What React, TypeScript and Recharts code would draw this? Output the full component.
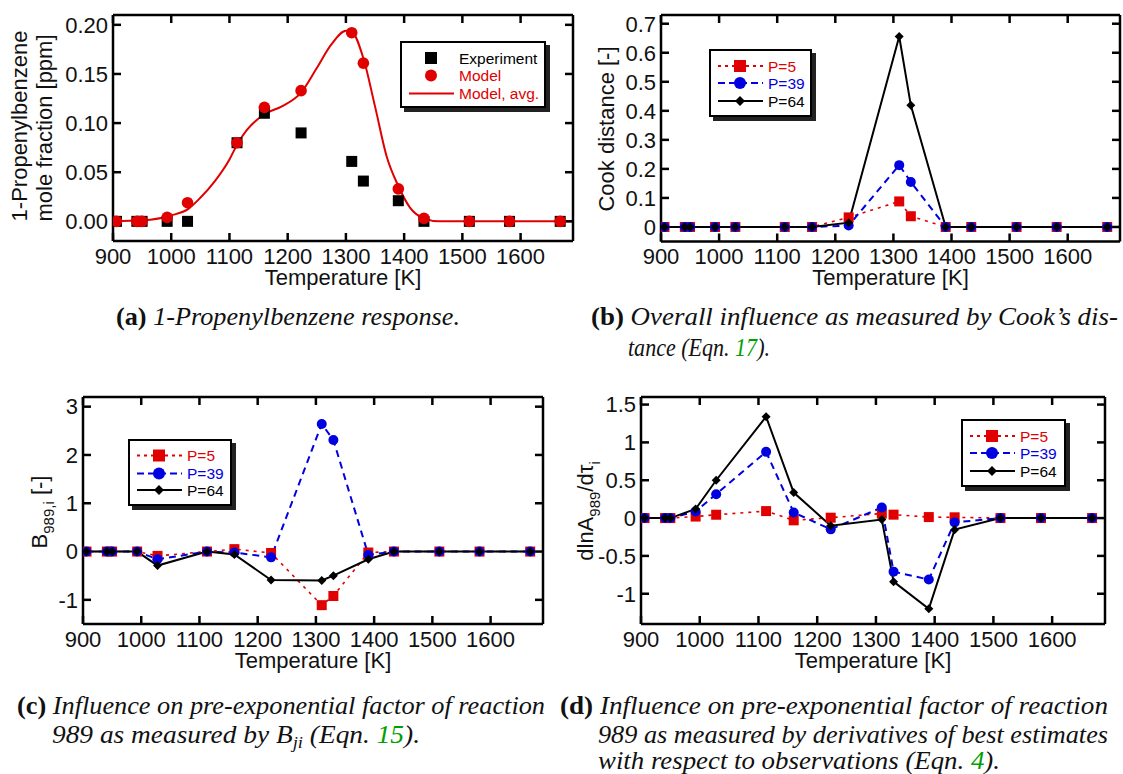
import React from "react";
import { LineChart, Line, XAxis, YAxis } from "recharts";

// temperatures of the 15 observations [K]
const TEMPS = [906, 941, 950, 993, 1028, 1113, 1160, 1223, 1310, 1330, 1390, 1434, 1512, 1581, 1668];
const X_TICKS = [900, 1000, 1100, 1200, 1300, 1400, 1500, 1600];

// (a) 1-propenylbenzene mole fraction [ppm]
const EXPERIMENT = [0, 0, 0, 0, 0, 0.08, 0.11, 0.09, 0.061, 0.041, 0.021, 0, 0, 0, 0];
const MODEL = [0, 0, 0, 0.004, 0.019, 0.08, 0.116, 0.133, 0.192, 0.161, 0.033, 0.003, 0, 0, 0];
const AVG_T = [900, 950, 1000, 1030, 1050, 1075, 1100, 1113, 1130, 1160, 1190, 1223, 1250, 1275, 1300, 1310, 1330, 1350, 1370, 1390, 1410, 1434, 1460, 1690];
const AVG_V = [0, 0.001, 0.006, 0.013, 0.024, 0.041, 0.063, 0.078, 0.093, 0.109, 0.117, 0.131, 0.156, 0.18, 0.194, 0.193, 0.166, 0.117, 0.066, 0.036, 0.014, 0.003, 0, 0];

// (b) Cook distance
const COOK_P5 = [0, 0, 0, 0, 0, 0, 0, 0.033, 0.088, 0.037, 0, 0, 0, 0, 0];
const COOK_P39 = [0, 0, 0, 0, 0, 0, 0, 0.005, 0.213, 0.155, 0, 0, 0, 0, 0];
const COOK_P64 = [0, 0, 0, 0, 0, 0, 0, 0.015, 0.656, 0.419, 0, 0, 0, 0, 0];

// (c) B_989,i
const B_P5 = [0, 0, 0, 0, -0.09, 0, 0.05, -0.03, -1.11, -0.92, -0.02, 0, 0, 0, 0];
const B_P39 = [0, 0, 0, 0, -0.16, 0, -0.02, -0.12, 2.64, 2.31, -0.07, 0, 0, 0, 0];
const B_P64 = [0, 0, 0, 0, -0.29, 0, -0.06, -0.59, -0.6, -0.5, -0.16, 0, 0, 0, 0];

// (d) dlnA_989 / dtau_i
const D_P5 = [0, 0, 0, 0.02, 0.044, 0.092, -0.03, 0.005, 0.06, 0.045, 0.013, 0.01, 0, 0, 0];
const D_P39 = [0, 0, 0, 0.087, 0.315, 0.875, 0.074, -0.149, 0.14, -0.708, -0.813, -0.057, 0, 0, 0];
const D_P64 = [0, 0, 0, 0.12, 0.5, 1.34, 0.337, -0.1, -0.02, -0.84, -1.2, -0.153, 0, 0, 0];

const RED = "#e00000";
const BLUE = "#0000e0";
const INK = "#111";
const SANS = "Liberation Sans, Arial, Helvetica, sans-serif";
const SERIF = "Liberation Serif, Times New Roman, Times, serif";

const AXIS = { stroke: "#000", strokeWidth: 2.5 };
const TICK = { fontSize: 22, fill: INK, fontFamily: SANS };
const NO_LABEL = () => <g />;

function table(a: number[], b: number[], c?: number[]) {
  return TEMPS.map((T, i) => ({ T, a: a[i], b: b[i], c: c ? c[i] : undefined }));
}

const square = (s: number, fill: string) => (p: any) =>
  p.cx == null ? <g key={p.index} /> : (
    <rect key={`s${p.index}`} x={p.cx - s / 2} y={p.cy - s / 2} width={s} height={s} fill={fill} />
  );
const circle = (r: number, fill: string) => (p: any) =>
  p.cx == null ? <g key={p.index} /> : <circle key={`c${p.index}`} cx={p.cx} cy={p.cy} r={r} fill={fill} />;
const diamond = (s: number, fill: string) => (p: any) =>
  p.cx == null ? <g key={p.index} /> : (
    <polygon
      key={`d${p.index}`}
      points={`${p.cx},${p.cy - s} ${p.cx + s},${p.cy} ${p.cx},${p.cy + s} ${p.cx - s},${p.cy}`}
      fill={fill}
    />
  );

// bottom/left axes with labels, top/right mirrors with inward ticks only
// (a CartesianAxis with zero width/height is not drawn, so the mirrors get 1px)
function frame(yDomain: number[], yTicks: number[], yFmt: (v: number) => string, yWidth: number, xHeight: number, labelOffset: number) {
  return [
    <XAxis
      key="xb"
      dataKey="T"
      type="number"
      domain={[900, 1690]}
      ticks={X_TICKS}
      interval={0}
      allowDataOverflow
      tick={TICK}
      tickSize={-8}
      tickMargin={15}
      height={xHeight}
      axisLine={AXIS}
      tickLine={AXIS}
      label={{ value: "Temperature [K]", position: "insideBottom", offset: labelOffset, fill: INK, fontSize: 22, fontFamily: SANS }}
    />,
    <XAxis
      key="xt"
      xAxisId="t"
      dataKey="T"
      orientation="top"
      type="number"
      domain={[900, 1690]}
      ticks={X_TICKS}
      interval={0}
      allowDataOverflow
      tick={NO_LABEL}
      tickSize={-8}
      height={1}
      axisLine={AXIS}
      tickLine={AXIS}
    />,
    <YAxis
      key="yl"
      type="number"
      domain={yDomain}
      ticks={yTicks}
      interval={0}
      allowDataOverflow
      tickFormatter={yFmt}
      tick={TICK}
      tickSize={-8}
      tickMargin={13}
      width={yWidth}
      axisLine={AXIS}
      tickLine={AXIS}
    />,
    <YAxis
      key="yr"
      yAxisId="r"
      orientation="right"
      type="number"
      domain={yDomain}
      ticks={yTicks}
      interval={0}
      allowDataOverflow
      tick={NO_LABEL}
      tickSize={-8}
      width={1}
      axisLine={AXIS}
      tickLine={AXIS}
    />,
    // invisible series that ties the mirror axes to the data
    <Line key="mirror" xAxisId="t" yAxisId="r" dataKey="a" stroke="none" dot={false} activeDot={false} isAnimationActive={false} />,
  ];
}

function influenceLines() {
  return [
    <Line key="p5" dataKey="a" stroke={RED} strokeWidth={1.6} strokeDasharray="3 5" dot={square(10, RED)} isAnimationActive={false} />,
    <Line key="p39" dataKey="b" stroke={BLUE} strokeWidth={2} strokeDasharray="7 5" dot={circle(5, BLUE)} isAnimationActive={false} />,
    <Line key="p64" dataKey="c" stroke="#000" strokeWidth={2} dot={diamond(4.5, "#000")} isAnimationActive={false} />,
  ];
}

type Row = { label: string; color: string; dash?: string; line?: boolean; marker?: "square" | "circle" | "diamond" | null; y: number };

function LegendBox({ left, top, width, height, rows }: { left: number; top: number; width: number; height: number; rows: Row[] }) {
  return (
    <div
      style={{
        position: "absolute",
        left,
        top,
        width,
        height,
        border: "2px solid #000",
        boxSizing: "border-box",
        background: "#fff",
        boxShadow: "4px 4px 0 #222",
      }}
    >
      <svg width={width} height={height} style={{ position: "absolute", left: -2, top: -2 }}>
        {rows.map((r) => (
          <g key={r.label}>
            {r.line !== false && <line x1={9} x2={54} y1={r.y} y2={r.y} stroke={r.color} strokeWidth={2} strokeDasharray={r.dash} />}
            {r.marker === "square" && <rect x={25} y={r.y - 6} width={12} height={12} fill={r.color} />}
            {r.marker === "circle" && <circle cx={31} cy={r.y} r={6} fill={r.color} />}
            {r.marker === "diamond" && <polygon points={`31,${r.y - 5} 36,${r.y} 31,${r.y + 5} 26,${r.y}`} fill={r.color} />}
            <text x={59} y={r.y + 5.5} fontSize={15.5} fontFamily={SANS} fill={r.color}>
              {r.label}
            </text>
          </g>
        ))}
      </svg>
    </div>
  );
}

const P_ROWS = (ys: number[]): Row[] => [
  { label: "P=5", color: RED, dash: "3 4", marker: "square", y: ys[0] },
  { label: "P=39", color: BLUE, dash: "7 4", marker: "circle", y: ys[1] },
  { label: "P=64", color: "#000", marker: "diamond", y: ys[2] },
];

export default function App() {
  const dataA = table(EXPERIMENT, MODEL);
  const avg = AVG_T.map((T, i) => ({ T, v: AVG_V[i] }));
  const dataB = table(COOK_P5, COOK_P39, COOK_P64);
  const dataC = table(B_P5, B_P39, B_P64);
  const dataD = table(D_P5, D_P39, D_P64);
  const titleStyle = { fontSize: 22, fontFamily: SANS, fill: INK } as const;
  const capStyle = { fontSize: 25, fontFamily: SERIF, fill: INK } as const;

  return (
    <div style={{ position: "absolute", left: 0, top: 0, width: 1123, height: 774, background: "#fff", overflow: "hidden" }}>
      {/* (a) */}
      <div style={{ position: "absolute", left: 0, top: 0 }}>
        <LineChart width={580} height={294} data={dataA} margin={{ top: 14, right: 6, left: 0, bottom: 0 }}>
          {frame([-0.02, 0.21], [0, 0.05, 0.1, 0.15, 0.2], (v) => v.toFixed(2), 113, 53, 9)}
          <Line dataKey="a" stroke="none" dot={square(11, "#000")} isAnimationActive={false} />
          <Line data={avg} dataKey="v" type="monotone" stroke={RED} strokeWidth={2} dot={false} isAnimationActive={false} />
          <Line dataKey="b" stroke="none" dot={circle(5.8, RED)} isAnimationActive={false} />
        </LineChart>
      </div>
      {/* (b) */}
      <div style={{ position: "absolute", left: 560, top: 0 }}>
        <LineChart width={563} height={294} data={dataB} margin={{ top: 14, right: 2, left: 0, bottom: 0 }}>
          {frame([-0.05, 0.73], [0, 0.1, 0.2, 0.3, 0.4, 0.5, 0.6, 0.7], (v) => (v === 0 ? "0" : v.toFixed(1)), 101, 52.5, 9)}
          {influenceLines()}
        </LineChart>
      </div>
      {/* (c) */}
      <div style={{ position: "absolute", left: 0, top: 380 }}>
        <LineChart width={560} height={296} data={dataC} margin={{ top: 16, right: 16, left: 0, bottom: 0 }}>
          {frame([-1.5, 3.2], [-1, 0, 1, 2, 3], (v) => String(v), 83, 52, 8)}
          {influenceLines()}
        </LineChart>
      </div>
      {/* (d) */}
      <div style={{ position: "absolute", left: 560, top: 380 }}>
        <LineChart width={563} height={296} data={dataD} margin={{ top: 16, right: 17, left: 0, bottom: 0 }}>
          {frame([-1.4, 1.6], [-1, -0.5, 0, 0.5, 1, 1.5], (v) => String(v), 81, 52, 8)}
          {influenceLines()}
        </LineChart>
      </div>

      <LegendBox
        left={400}
        top={41}
        width={146}
        height={67}
        rows={[
          { label: "Experiment", color: "#000", line: false, marker: "square", y: 17 },
          { label: "Model", color: RED, line: false, marker: "circle", y: 34.5 },
          { label: "Model, avg.", color: RED, y: 52.5 },
        ]}
      />
      <LegendBox left={709} top={49} width={103} height={68} rows={P_ROWS([17, 34, 52])} />
      <LegendBox left={128} top={439} width={104} height={67} rows={P_ROWS([16.5, 34.5, 51])} />
      <LegendBox left={961} top={419} width={105} height={68} rows={P_ROWS([17, 34, 52])} />

      <svg width={1123} height={774} style={{ position: "absolute", left: 0, top: 0, pointerEvents: "none" }}>
        {/* axis titles */}
        <text transform="translate(27,126) rotate(-90)" textAnchor="middle" {...titleStyle}>1-Propenylbenzene</text>
        <text transform="translate(52,128) rotate(-90)" textAnchor="middle" {...titleStyle}>mole fraction [ppm]</text>
        <text transform="translate(614,129) rotate(-90)" textAnchor="middle" {...titleStyle}>Cook distance [-]</text>
        <text transform="translate(47,512) rotate(-90)" textAnchor="middle" {...titleStyle}>
          B<tspan fontSize={15} dy={7}>989,i</tspan>
          <tspan dy={-7}> [-]</tspan>
        </text>
        <text transform="translate(593,511) rotate(-90)" textAnchor="middle" {...titleStyle}>
          dlnA<tspan fontSize={15} dy={7}>989</tspan>
          <tspan dy={-7}>/dτ</tspan>
          <tspan fontSize={15} dy={7}>i</tspan>
        </text>

        {/* captions */}
        <text x={116} y={325} textLength={344} lengthAdjust="spacingAndGlyphs" {...capStyle}>
          <tspan fontWeight="bold">(a)</tspan>
          <tspan fontStyle="italic"> 1-Propenylbenzene response.</tspan>
        </text>
        <text x={591} y={325} textLength={527} lengthAdjust="spacingAndGlyphs" {...capStyle}>
          <tspan fontWeight="bold">(b)</tspan>
          <tspan fontStyle="italic"> Overall influence as measured by Cook’s dis-</tspan>
        </text>
        <text x={628} y={356} textLength={142} lengthAdjust="spacingAndGlyphs" {...capStyle} fontStyle="italic">
          tance (Eqn. <tspan fill="#00a000">17</tspan>).
        </text>
        <text x={17} y={714} textLength={528} lengthAdjust="spacingAndGlyphs" {...capStyle}>
          <tspan fontWeight="bold">(c)</tspan>
          <tspan fontStyle="italic"> Influence on pre-exponential factor of reaction</tspan>
        </text>
        <text x={52} y={743} textLength={368} lengthAdjust="spacingAndGlyphs" {...capStyle} fontStyle="italic">
          989 as measured by B<tspan fontSize={17} dy={5}>ji</tspan>
          <tspan dy={-5}> (Eqn. </tspan>
          <tspan fill="#00a000">15</tspan>).
        </text>
        <text x={560} y={714} textLength={548} lengthAdjust="spacingAndGlyphs" {...capStyle}>
          <tspan fontWeight="bold">(d)</tspan>
          <tspan fontStyle="italic"> Influence on pre-exponential factor of reaction</tspan>
        </text>
        <text x={598} y={743} textLength={510} lengthAdjust="spacingAndGlyphs" {...capStyle} fontStyle="italic">
          989 as measured by derivatives of best estimates
        </text>
        <text x={598} y={769} textLength={402} lengthAdjust="spacingAndGlyphs" {...capStyle} fontStyle="italic">
          with respect to observations (Eqn. <tspan fill="#00a000">4</tspan>).
        </text>
      </svg>
    </div>
  );
}
